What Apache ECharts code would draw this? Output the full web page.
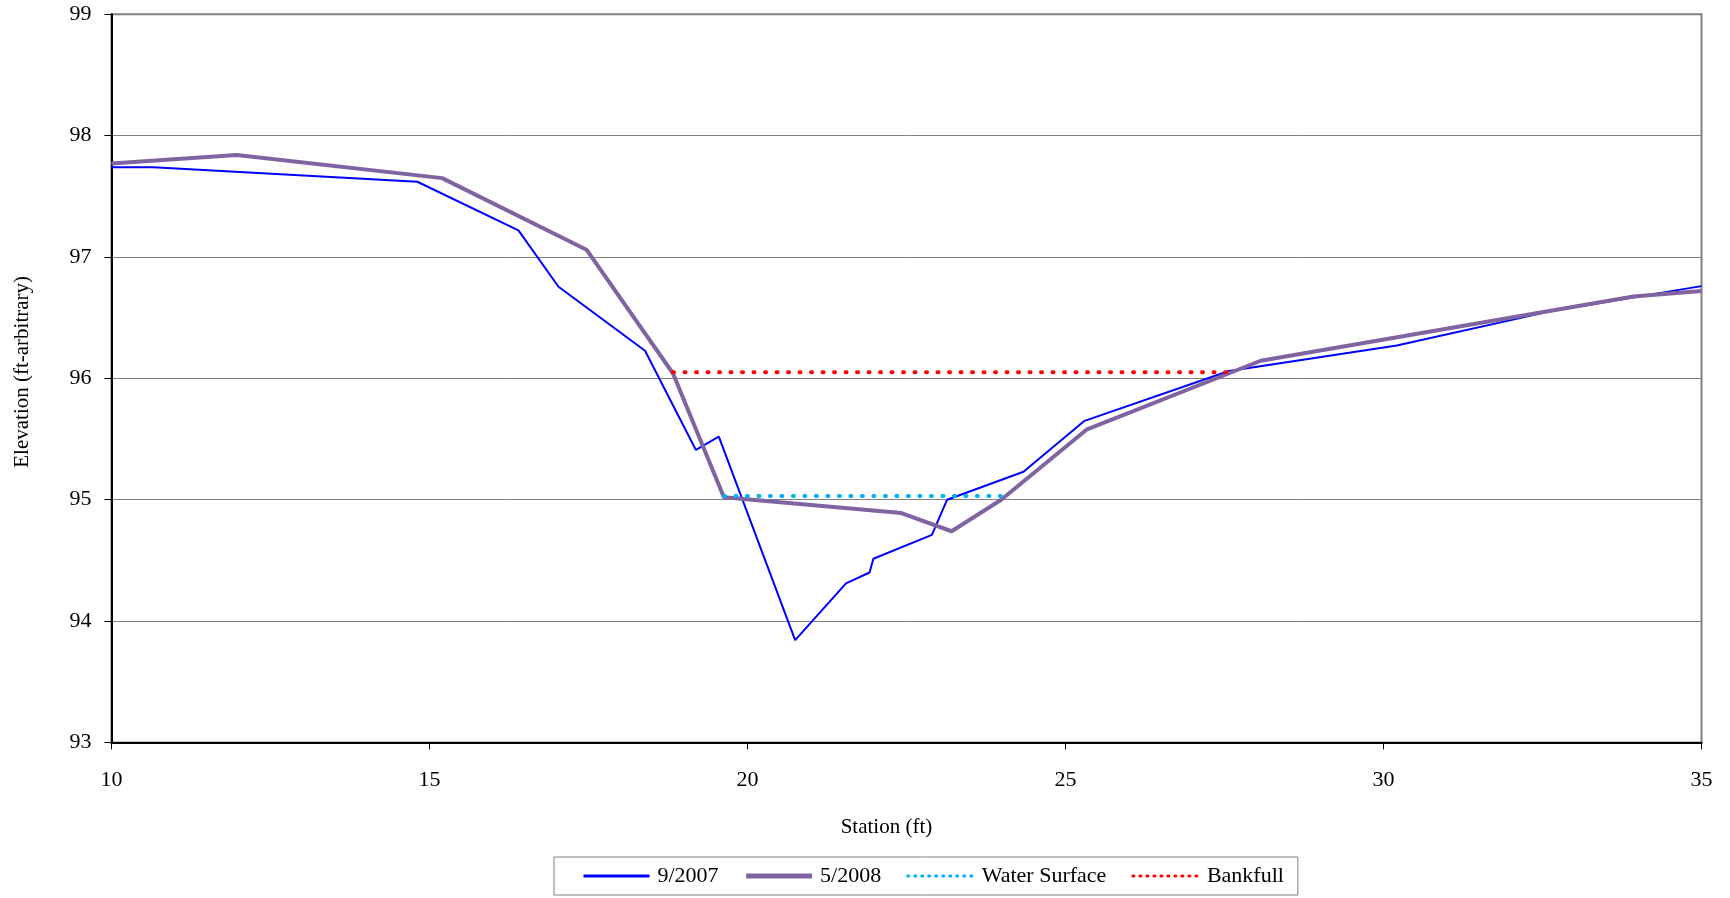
<!DOCTYPE html>
<html>
<head>
<meta charset="utf-8">
<script src="https://cdn.jsdelivr.net/npm/echarts@6/dist/echarts.min.js"></script>
<style>
html,body{margin:0;padding:0;background:#fff;}
#c{width:1730px;height:898px;}
</style>
</head>
<body>
<div id="c"></div>
<script>
// Data
var station2007 = [10, 10.66, 14.81, 16.40, 17.03, 18.39, 19.19, 19.55, 20.75, 21.55, 21.92, 21.98, 22.90, 23.14, 24.34, 25.30, 27.57, 30.21, 32.6, 35];
var elev2007    = [97.74, 97.74, 97.62, 97.22, 96.755, 96.227, 95.41, 95.52, 93.843, 94.31, 94.40, 94.513, 94.71, 95.00, 95.23, 95.65, 96.06, 96.27, 96.55, 96.76];
var station2008 = [10, 11.97, 15.20, 17.47, 18.83, 19.63, 22.42, 23.21, 23.99, 25.34, 28.07, 33.93, 35];
var elev2008    = [97.77, 97.84, 97.65, 97.06, 96.04, 95.02, 94.89, 94.74, 95.00, 95.58, 96.145, 96.675, 96.72];
var stationWater = [19.63, 23.99];
var elevWater    = [95.03, 95.03];
var stationBank  = [18.83, 27.55];
var elevBank     = [96.05, 96.05];
var seriesNames  = ['9/2007', '5/2008', 'Water Surface', 'Bankfull'];
var xTitle = 'Station (ft)';
var yTitle = 'Elevation (ft-arbitrary)';

function pairs(xs, ys){ return xs.map(function(x,i){ return [x, ys[i]]; }); }

var FONT = "'Liberation Serif','Times New Roman',serif";
var chart = echarts.init(document.getElementById('c'), null, {renderer:'canvas'});
chart.setOption({
  animation: false,
  backgroundColor: '#fff',
  grid: {left: 111.4, right: 28.5, top: 14.3, bottom: 155.6, show: true,
         borderColor: '#808080', borderWidth: 2, backgroundColor: 'transparent'},
  xAxis: {
    type: 'value', min: 10, max: 35, interval: 5,
    name: xTitle, nameLocation: 'middle', nameGap: 75,
    nameTextStyle: {fontFamily: FONT, fontSize: 21, color: '#000', padding: [0, 40, 0, 0]},
    axisLine: {show: true, onZero: false, lineStyle: {color: '#000', width: 2}},
    axisTick: {show: true, inside: false, length: 7, lineStyle: {color: '#000', width: 1}},
    axisLabel: {fontFamily: FONT, fontSize: 22, color: '#000', margin: 27},
    splitLine: {show: false}
  },
  yAxis: {
    type: 'value', min: 93, max: 99, interval: 1,
    name: yTitle, nameLocation: 'middle', nameGap: 78, nameRotate: 90,
    nameTextStyle: {fontFamily: FONT, fontSize: 21, color: '#000', padding: [0, 0, 0, 13]},
    axisLine: {show: true, onZero: false, lineStyle: {color: '#000', width: 2}},
    axisTick: {show: true, inside: false, length: 7, lineStyle: {color: '#000', width: 1}},
    axisLabel: {fontFamily: FONT, fontSize: 22, color: '#000', margin: 20},
    splitLine: {show: true, lineStyle: {color: '#808080', width: 1}}
  },
  legend: {
    left: 554, top: 857, orient: 'horizontal',
    padding: [8, 14, 8, 28],
    borderColor: '#808080', borderWidth: 1,
    itemWidth: 66, itemHeight: 14, itemGap: 25,
    itemStyle: {opacity: 0},
    textStyle: {fontFamily: FONT, fontSize: 22, color: '#000', padding: [0, 0, 0, 3]},
    data: [
      {name: seriesNames[0], lineStyle: {width: 3}},
      {name: seriesNames[1], lineStyle: {width: 5}},
      {name: seriesNames[2], lineStyle: {width: 3, type: [1, 6], cap: 'round'}},
      {name: seriesNames[3], lineStyle: {width: 3, type: [1, 6], cap: 'round'}}
    ]
  },
  series: [
    {name: seriesNames[0], type: 'line', data: pairs(station2007, elev2007), symbol: 'none',
     color: '#0000FF', lineStyle: {color: '#0000FF', width: 2}},
    {name: seriesNames[1], type: 'line', data: pairs(station2008, elev2008), symbol: 'none',
     color: '#8064A2', lineStyle: {color: '#8064A2', width: 4}},
    {name: seriesNames[2], type: 'line', data: pairs(stationWater, elevWater), symbol: 'none',
     color: '#00B0F0', lineStyle: {color: '#00B0F0', width: 4, type: [1, 10.5], cap: 'round'}},
    {name: seriesNames[3], type: 'line', data: pairs(stationBank, elevBank), symbol: 'none',
     color: '#FF0000', lineStyle: {color: '#FF0000', width: 4, type: [1, 10.5], cap: 'round'}}
  ]
});
</script>
</body>
</html>
